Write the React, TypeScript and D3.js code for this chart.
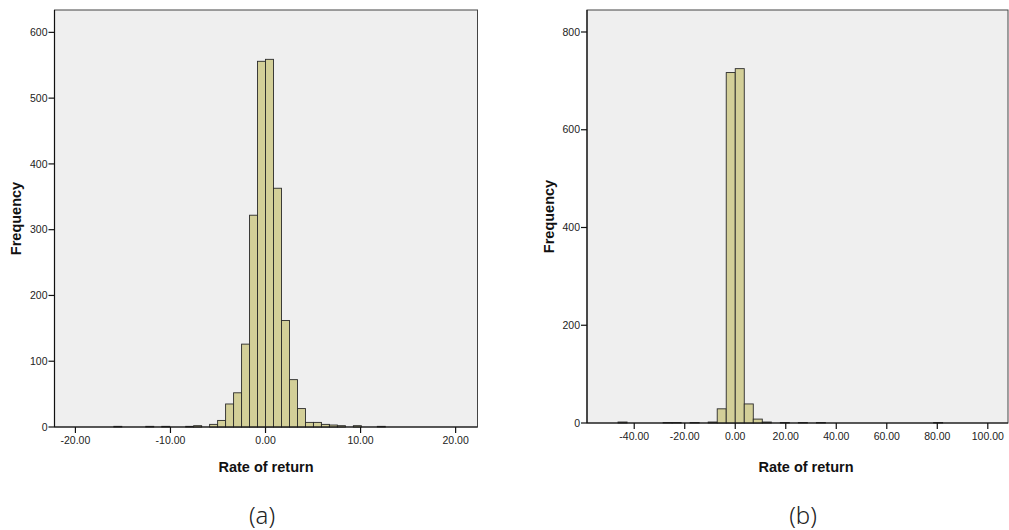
import React from "react";
import * as d3 from "d3";

// Histogram (a): bin index (lower edge = index * width) and frequency
const binWidthA = 0.84;
const binIndexA = [-19, -15, -13, -10, -9, -7, -6, -5, -4, -3, -2, -1, 0, 1, 2, 3, 4, 5, 6, 7, 8, 9, 11, 14];
const countsA = [1, 1, 1, 1, 2, 4, 10, 35, 52, 126, 322, 556, 559, 363, 162, 72, 28, 7, 7, 4, 3, 2, 2, 1];
const xTicksA = [-20, -10, 0, 10, 20];
const yTicksA = [0, 100, 200, 300, 400, 500, 600];

// Histogram (b)
const binWidthB = 3.57;
const binIndexB = [-13, -8, -7, -5, -3, -2, -1, 0, 1, 2, 3, 5, 7, 9, 22];
const countsB = [2, 1, 1, 1, 2, 29, 717, 725, 39, 8, 2, 1, 1, 1, 1];
const xTicksB = [-40, -20, 0, 20, 40, 60, 80, 100];
const yTicksB = [0, 200, 400, 600, 800];

const FONT = "'Liberation Sans', Arial, sans-serif";

type PanelProps = {
  left: number;
  right: number;
  top: number;
  bottom: number;
  xDomain: [number, number];
  yMax: number;
  binWidth: number;
  binIndex: number[];
  counts: number[];
  xTicks: number[];
  yTicks: number[];
  caption: string;
  captionX: number;
  xTitleX: number;
  yTitleX: number;
};

// Two-decimal tick labels with a plain hyphen for negatives
const fmt = (v: number) => d3.format(".2f")(v).replace("\u2212", "-");

function Panel(p: PanelProps) {
  const x = d3.scaleLinear().domain(p.xDomain).range([p.left, p.right]);
  const y = d3.scaleLinear().domain([0, p.yMax]).range([p.bottom, p.top]);
  const midY = (p.top + p.bottom) / 2;
  return (
    <g>
      <rect
        x={p.left}
        y={p.top}
        width={p.right - p.left}
        height={p.bottom - p.top}
        fill="#efefef"
        stroke="#444"
        strokeWidth={1}
      />
      {p.binIndex.map((k, i) => {
        const x0 = x(k * p.binWidth);
        const x1 = x((k + 1) * p.binWidth);
        const yv = y(p.counts[i]);
        return (
          <rect
            key={i}
            x={x0}
            y={yv}
            width={x1 - x0}
            height={p.bottom - yv}
            fill="#d3cf98"
            stroke="#2a2a2a"
            strokeWidth={0.9}
          />
        );
      })}
      <line x1={p.left} x2={p.right} y1={p.bottom} y2={p.bottom} stroke="#111" strokeWidth={1.2} />
      <line x1={p.left} x2={p.left} y1={p.top} y2={p.bottom} stroke="#111" strokeWidth={1.2} />
      {p.yTicks.map((t) => (
        <g key={"y" + t}>
          <line x1={p.left - 6} x2={p.left} y1={y(t)} y2={y(t)} stroke="#111" strokeWidth={1.2} />
          <text
            x={p.left - 7}
            y={y(t)}
            dy="0.35em"
            textAnchor="end"
            fontFamily={FONT}
            fontSize={10.5}
            fill="#222"
          >
            {t}
          </text>
        </g>
      ))}
      {p.xTicks.map((t) => (
        <g key={"x" + t}>
          <line x1={x(t)} x2={x(t)} y1={p.bottom} y2={p.bottom + 6} stroke="#111" strokeWidth={1.2} />
          <text
            x={x(t)}
            y={p.bottom + 17}
            textAnchor="middle"
            fontFamily={FONT}
            fontSize={10.5}
            fill="#222"
          >
            {fmt(t)}
          </text>
        </g>
      ))}
      <text
        transform={`translate(${p.yTitleX},${midY}) rotate(-90)`}
        textAnchor="middle"
        fontFamily={FONT}
        fontSize={14.5}
        fontWeight="bold"
        fill="#111"
      >
        Frequency
      </text>
      <text
        x={p.xTitleX}
        y={472}
        textAnchor="middle"
        fontFamily={FONT}
        fontSize={14.5}
        fontWeight="bold"
        fill="#111"
      >
        Rate of return
      </text>
      <text
        x={p.captionX}
        y={524}
        textAnchor="middle"
        fontFamily="'Noto Sans', sans-serif"
        fontSize={24}
        fontWeight={300}
        fill="#222"
      >
        {p.caption}
      </text>
    </g>
  );
}

export default function App() {
  return (
    <svg
      width={1009}
      height={530}
      style={{ position: "absolute", left: 0, top: 0, background: "#fff" }}
    >
      <Panel
        left={54.5}
        right={477.5}
        top={10}
        bottom={427}
        xDomain={[-22.2, 22.3]}
        yMax={634}
        binWidth={binWidthA}
        binIndex={binIndexA}
        counts={countsA}
        xTicks={xTicksA}
        yTicks={yTicksA}
        caption="(a)"
        captionX={262}
        xTitleX={266}
        yTitleX={21}
      />
      <Panel
        left={587}
        right={1008}
        top={10}
        bottom={423}
        xDomain={[-58.7, 108]}
        yMax={845}
        binWidth={binWidthB}
        binIndex={binIndexB}
        counts={countsB}
        xTicks={xTicksB}
        yTicks={yTicksB}
        caption="(b)"
        captionX={803}
        xTitleX={806}
        yTitleX={554}
      />
    </svg>
  );
}
